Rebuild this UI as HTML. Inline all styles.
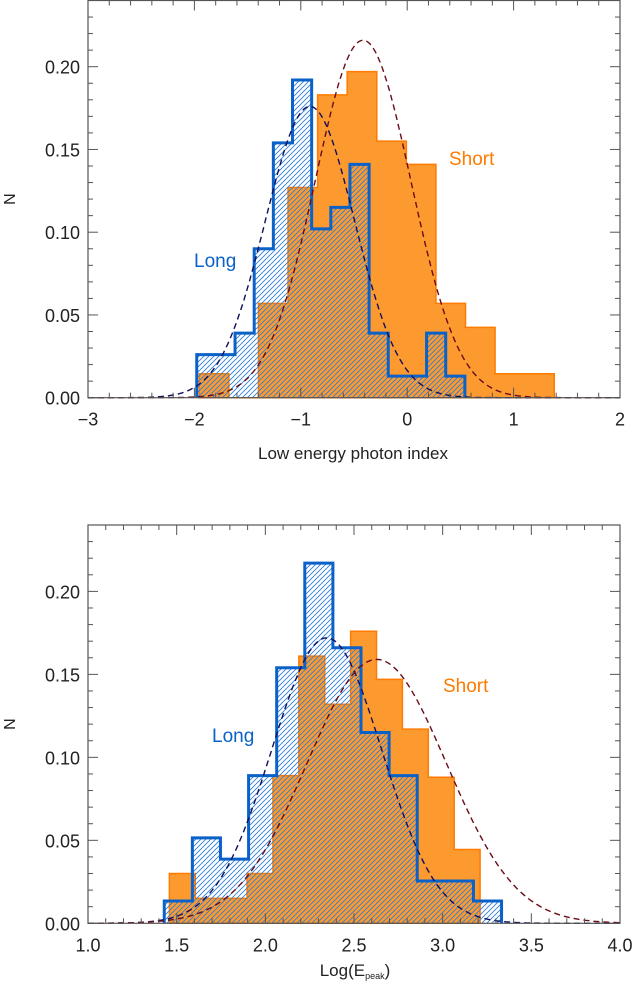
<!DOCTYPE html>
<html><head><meta charset="utf-8"><style>
html,body{margin:0;padding:0;background:#fff;}
svg{display:block;font-family:"Liberation Sans",sans-serif;}
</style></head><body>
<svg id="chart" width="635" height="990" viewBox="0 0 635 990" xmlns="http://www.w3.org/2000/svg">
<defs>
<pattern id="hatch" patternUnits="userSpaceOnUse" width="5" height="5">
<path d="M0,5 L5,0 M-1,1 L1,-1 M4,6 L6,4" stroke="#2f7fd6" stroke-width="0.9"/>
</pattern>
</defs>
</svg>
<script>
// ---- Top panel data ----
const topShortStart = -1.954, topShortWidth = 0.278;
const topShortValues = [0.0145,0,0.057,0.127,0.183,0.197,0.155,0.141,0.057,0.0425,0.0145,0.0145];
const topLongStart = -1.978, topLongWidth = 0.18;
const topLongValues = [0.026,0.026,0.039,0.090,0.154,0.192,0.102,0.115,0.141,0.039,0.013,0.013,0.039,0.013];
const topLongFit = [0.176,-0.914,0.42];   // amplitude, mean, sigma
const topShortFit = [0.216,-0.415,0.45];
const topXTicks = [-3,-2,-1,0,1,2];
const topXTickLabels = ["\u22123","\u22122","\u22121","0","1","2"];
// ---- Bottom panel data ----
const botShortStart = 1.459, botShortWidth = 0.146;
const botShortValues = [0.030,0.015,0.015,0.030,0.089,0.161,0.132,0.176,0.147,0.117,0.088,0.0445];
const botLongStart = 1.430, botLongWidth = 0.1585;
const botLongValues = [0.0134,0.0515,0.0387,0.089,0.154,0.217,0.166,0.115,0.089,0.0255,0.0255,0.0134];
const botLongFit = [0.172,2.346,0.311];
const botShortFit = [0.159,2.628,0.393];
const botXTicks = [1.0,1.5,2.0,2.5,3.0,3.5,4.0];
const botXTickLabels = ["1.0","1.5","2.0","2.5","3.0","3.5","4.0"];
const yTicks = [0,0.05,0.10,0.15,0.20];
const yTickLabels = ["0.00","0.05","0.10","0.15","0.20"];

const NS="http://www.w3.org/2000/svg";
const svg=document.getElementById('chart');
function mk(tag,attrs,parent){const e=document.createElementNS(NS,tag);for(const k in attrs)e.setAttribute(k,attrs[k]);(parent||svg).appendChild(e);return e;}

function panel(o){
  const g=mk('g',{});
  
  
  const L=88,R=620,T=o.top,B=o.base;
  const sx=v=>L+(v-o.xmin)/(o.xmax-o.xmin)*(R-L);
  const sy=v=>B-v/0.24*(B-T);
  function histPath(start,w,vals){
    let d='M'+sx(start)+','+sy(0);
    vals.forEach((v,i)=>{d+=' L'+sx(start+i*w)+','+sy(v)+' L'+sx(start+(i+1)*w)+','+sy(v);});
    d+=' L'+sx(start+vals.length*w)+','+sy(0);
    return d;
  }
  const sp=mk('path',{d:histPath(o.sStart,o.sW,o.sVals)+' Z',fill:'#fd9a2f',stroke:'#ff7a00','stroke-width':1.5},g);
  
  
  const lh=mk('path',{d:histPath(o.lStart,o.lW,o.lVals)+' Z',fill:'url(#hatch)',stroke:'none'},g);
  
  
  const lp=mk('path',{d:histPath(o.lStart,o.lW,o.lVals),fill:'none',stroke:'#0a62c9','stroke-width':3},g);
  
  
  function gauss(p,color,name){
    let d='';
    for(let i=0;i<=300;i++){const x=o.xmin+(o.xmax-o.xmin)*i/300;const v=p[0]*Math.exp(-0.5*Math.pow((x-p[1])/p[2],2));d+=(i?' L':'M')+sx(x).toFixed(1)+','+sy(v).toFixed(1);}
    const e=mk('path',{d:d,fill:'none',stroke:color,'stroke-width':1.4,'stroke-dasharray':'6,4'},g);
    
    
  }
  gauss(o.lFit,'#10105e','long-fit-curve');
  gauss(o.sFit,'#6a0c18','short-fit-curve');
  const fr=mk('rect',{x:L,y:T,width:R-L,height:B-T,fill:'none',stroke:'#555','stroke-width':1.2},g);
  
  
  // minor x ticks
  for(let v=o.xmin;v<=o.xmax+1e-9;v+=o.minor){
    const x=sx(v);const major=Math.abs(v/o.major-Math.round(v/o.major))<1e-6;const len=major?10:5;
    mk('line',{x1:x,y1:B,x2:x,y2:B-len,stroke:'#555','stroke-width':1},g);
    mk('line',{x1:x,y1:T,x2:x,y2:T+len,stroke:'#555','stroke-width':1},g);
  }
  for(let v=0;v<=0.24+1e-9;v+=0.01){
    const y=sy(v);const major=Math.abs(v/0.05-Math.round(v/0.05))<1e-6;const len=major?10:5;
    mk('line',{x1:L,y1:y,x2:L+len,y2:y,stroke:'#555','stroke-width':1},g);
    mk('line',{x1:R,y1:y,x2:R-len,y2:y,stroke:'#555','stroke-width':1},g);
  }
  o.xt.forEach((v,i)=>{
    const t=mk('text',{x:sx(v),y:B+28,'text-anchor':'middle','font-size':18,fill:'#222'},g);
    t.textContent=o.xl[i];
    
    
  });
  yTicks.forEach((v,i)=>{
    const t=mk('text',{x:80,y:sy(v)+7,'text-anchor':'end','font-size':18,fill:'#222'},g);
    t.textContent=yTickLabels[i];
    
    
  });
  const yt=mk('text',{x:0,y:0,'text-anchor':'middle','font-size':16,fill:'#222',transform:'translate(15,'+((T+B)/2)+') rotate(-90)'},g);
  yt.textContent='N';
  
  
  const lg=mk('text',{x:o.longLbl[0],y:o.longLbl[1],'font-size':19,fill:'#0a62c9'},g);
  lg.textContent='Long';
  
  
  const sh=mk('text',{x:o.shortLbl[0],y:o.shortLbl[1],'font-size':19,fill:'#ff7a00'},g);
  sh.textContent='Short';
  
  
  return g;
}
panel({name:'top-panel',top:0.5,base:397.7,xmin:-3,xmax:2,major:1,minor:0.2,
  sStart:topShortStart,sW:topShortWidth,sVals:topShortValues,
  lStart:topLongStart,lW:topLongWidth,lVals:topLongValues,
  lFit:topLongFit,sFit:topShortFit,xt:topXTicks,xl:topXTickLabels,
  longLbl:[194,267],shortLbl:[449,165]});
panel({name:'bottom-panel',top:525,base:923.3,xmin:1,xmax:4,major:0.5,minor:0.1,
  sStart:botShortStart,sW:botShortWidth,sVals:botShortValues,
  lStart:botLongStart,lW:botLongWidth,lVals:botLongValues,
  lFit:botLongFit,sFit:botShortFit,xt:botXTicks,xl:botXTickLabels,
  longLbl:[212,742],shortLbl:[443,692]});
const xt1=mk('text',{x:353,y:459,'text-anchor':'middle','font-size':17,fill:'#222'});
xt1.textContent='Low energy photon index';


const xt2=mk('text',{x:355,y:976,'text-anchor':'middle','font-size':17,fill:'#222'});
xt2.innerHTML='Log(E<tspan font-size="9" dy="3">peak</tspan><tspan dy="-3">)</tspan>';


</script>
</body></html>
